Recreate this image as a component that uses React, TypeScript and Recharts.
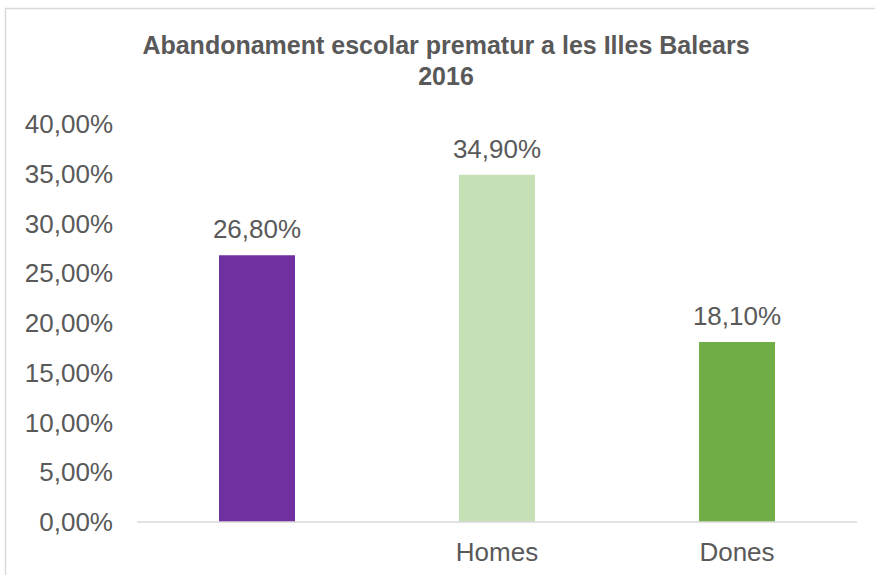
import { Bar, BarChart, LabelList, XAxis, YAxis, CartesianGrid } from 'recharts';

const categories = ['', 'Homes', 'Dones'];
const values = [26.8, 34.9, 18.1];
const colors = ['#7030A0', '#C5E0B4', '#70AD47'];
const yTicks = [0, 5, 10, 15, 20, 25, 30, 35, 40];
const titleLines = ['Abandonament escolar prematur a les Illes Balears', '2016'];

const data = categories.map((name, i) => ({ name, value: values[i], fill: colors[i] }));

const fmt = (v: number) => v.toFixed(2).replace('.', ',') + '%';

const FONT = '"Liberation Sans", Arial, sans-serif';
const GREY = '#595959';

export default function App() {
    return (
        <div style={{ position: 'absolute', left: 0, top: 0, width: 875, height: 575, background: '#fff', fontFamily: FONT }}>
            <BarChart
                width={875}
                height={575}
                data={data}
                margin={{ top: 124, right: 18, bottom: 0, left: 0 }}
            >
                <CartesianGrid vertical={false} horizontal={false} />
                <XAxis
                    dataKey="name"
                    interval={0}
                    height={53}
                    tickLine={false}
                    tickMargin={15}
                    axisLine={{ stroke: '#D9D9D9', strokeWidth: 1.5 }}
                    tick={{ fill: GREY, fontSize: 26, fontFamily: FONT }}
                />
                <YAxis
                    domain={[0, 40]}
                    ticks={yTicks}
                    interval={0}
                    width={137}
                    axisLine={false}
                    tickLine={false}
                    tickMargin={18}
                    tickFormatter={fmt}
                    tick={{ fill: GREY, fontSize: 26, fontFamily: FONT }}
                />
                <Bar dataKey="value" barSize={76} isAnimationActive={false}>
                    <LabelList
                        dataKey="value"
                        position="top"
                        offset={17}
                        formatter={(v: any) => fmt(Number(v))}
                        style={{ fill: GREY, fontSize: 26, fontFamily: FONT }}
                    />
                </Bar>
            </BarChart>
            <svg width={875} height={575} style={{ position: 'absolute', left: 0, top: 0, pointerEvents: 'none' }}>
                <rect x={5.5} y={8.5} width={900} height={600} fill="none" stroke="#D9D9D9" strokeWidth={1.5} />
                {titleLines.map((t, i) => (
                    <text key={i} x={446} y={54 + i * 31} textAnchor="middle" fontSize={25} fontWeight="bold" fill={GREY} fontFamily={FONT}>
                        {t}
                    </text>
                ))}
            </svg>
        </div>
    );
}
